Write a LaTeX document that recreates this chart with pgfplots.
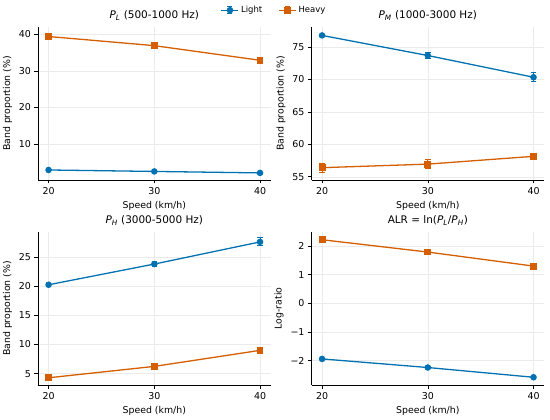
\documentclass[border=0pt]{standalone}
\usepackage{fontspec}
\setmainfont{DejaVu Sans}
\usepackage{pgfplots}
\pgfplotsset{compat=1.18}
\definecolor{cL}{HTML}{0072B2}
\definecolor{cH}{HTML}{D55E00}
\pgfplotsset{
 panel/.style={scale only axis, width=232.6bp, height=153bp, xmin=19, xmax=41, xtick={20,30,40},
   axis x line*=bottom, axis y line*=left, tick align=outside, grid=major,
   major grid style={black!8, line width=0.5pt}, tick style={black, line width=0.6pt},
   major tick length=3.5bp, axis line style={line width=0.8pt},
   every tick label/.append style={font=\fontsize{9.5}{11}\selectfont},
   label style={font=\fontsize{9.4}{11}\selectfont},
   title style={font=\fontsize{10.5}{12}\selectfont, yshift=-3bp},
   /pgf/number format/assume math mode=true,
   xlabel={Speed (km/h)}, anchor=south west, clip=false},
 light/.style={color=cL, line width=1.3pt, mark=*, mark size=2.6bp,
   error bars/y dir=both, error bars/y explicit,
   error bars/error bar style={line width=1pt},
   error bars/error mark options={rotate=90, mark size=2.8bp, line width=1pt}},
 heavy/.style={color=cH, line width=1.3pt, mark=square*, mark size=2.8bp,
   error bars/y dir=both, error bars/y explicit,
   error bars/error bar style={line width=1pt},
   error bars/error mark options={rotate=90, mark size=2.8bp, line width=1pt}},
}
\begin{document}
\begin{tikzpicture}
\path[use as bounding box] (0,0) rectangle (550bp,420bp);
% P_L
\begin{axis}[panel, at={(38bp,240bp)}, ymin=0.16, ymax=42, ytick={10,20,30,40},
  ylabel={Band proportion (\%)}, title={\textit{P}\textsubscript{\textit{L}} (500-1000 Hz)},
  legend style={at={(1.015,1.11)}, anchor=center, draw=none, fill=none, legend columns=2,
    font=\fontsize{8.5}{10}\selectfont, /tikz/every even column/.append style={column sep=14bp}},
  legend image code/.code={
    \draw[#1] (0cm,0cm) -- (0.6cm,0cm);
    \draw[#1, line width=1pt] (0.3cm,-3.5bp) -- (0.3cm,3.5bp);
    \draw[#1, line width=1pt] (0.3cm-2.5bp,-3.5bp) -- (0.3cm+2.5bp,-3.5bp);
    \draw[#1, line width=1pt] (0.3cm-2.5bp,3.5bp) -- (0.3cm+2.5bp,3.5bp);
    \draw[#1] plot[mark repeat=1] coordinates {(0.3cm,0cm)};
  }]
\addplot[light] coordinates {(20,2.9) +- (0,0.15) (30,2.5) +- (0,0.15) (40,2.1) +- (0,0.15)};
\addlegendentry{Light}
\addplot[heavy] coordinates {(20,39.4) +- (0,0.6) (30,36.9) +- (0,0.5) (40,32.9) +- (0,0.4)};
\addlegendentry{Heavy}
\end{axis}
% P_M
\begin{axis}[panel, at={(311.5bp,240bp)}, ymin=54.5, ymax=78.1, ytick={55,60,65,70,75},
  ylabel={Band proportion (\%)}, title={\textit{P}\textsubscript{\textit{M}} (1000-3000 Hz)}]
\addplot[light] coordinates {(20,76.8) +- (0,0.2) (30,73.7) +- (0,0.5) (40,70.35) +- (0,0.7)};
\addplot[heavy] coordinates {(20,56.4) +- (0,0.7) (30,56.95) +- (0,0.7) (40,58.15) +- (0,0.5)};
\end{axis}
% P_H
\begin{axis}[panel, at={(38bp,35bp)}, ymin=3.06, ymax=29.3, ytick={5,10,15,20,25},
  ylabel={Band proportion (\%)}, title={\textit{P}\textsubscript{\textit{H}} (3000-5000 Hz)}]
\addplot[light] coordinates {(20,20.25) +- (0,0.2) (30,23.8) +- (0,0.5) (40,27.6) +- (0,0.7)};
\addplot[heavy] coordinates {(20,4.3) +- (0,0.2) (30,6.25) +- (0,0.25) (40,9.0) +- (0,0.3)};
\end{axis}
% ALR
\begin{axis}[panel, at={(311.5bp,35bp)}, ymin=-2.85, ymax=2.49, ytick={-2,-1,0,1,2},
  yticklabels={−2,−1,0,1,2},
  ylabel={Log-ratio}, title={ALR = ln(\textit{P}\textsubscript{\textit{L}}/\textit{P}\textsubscript{\textit{H}})}]
\addplot[light] coordinates {(20,-1.94) +- (0,0.03) (30,-2.24) +- (0,0.03) (40,-2.58) +- (0,0.03)};
\addplot[heavy] coordinates {(20,2.22) +- (0,0.03) (30,1.79) +- (0,0.03) (40,1.30) +- (0,0.03)};
\end{axis}
\end{tikzpicture}
\end{document}
